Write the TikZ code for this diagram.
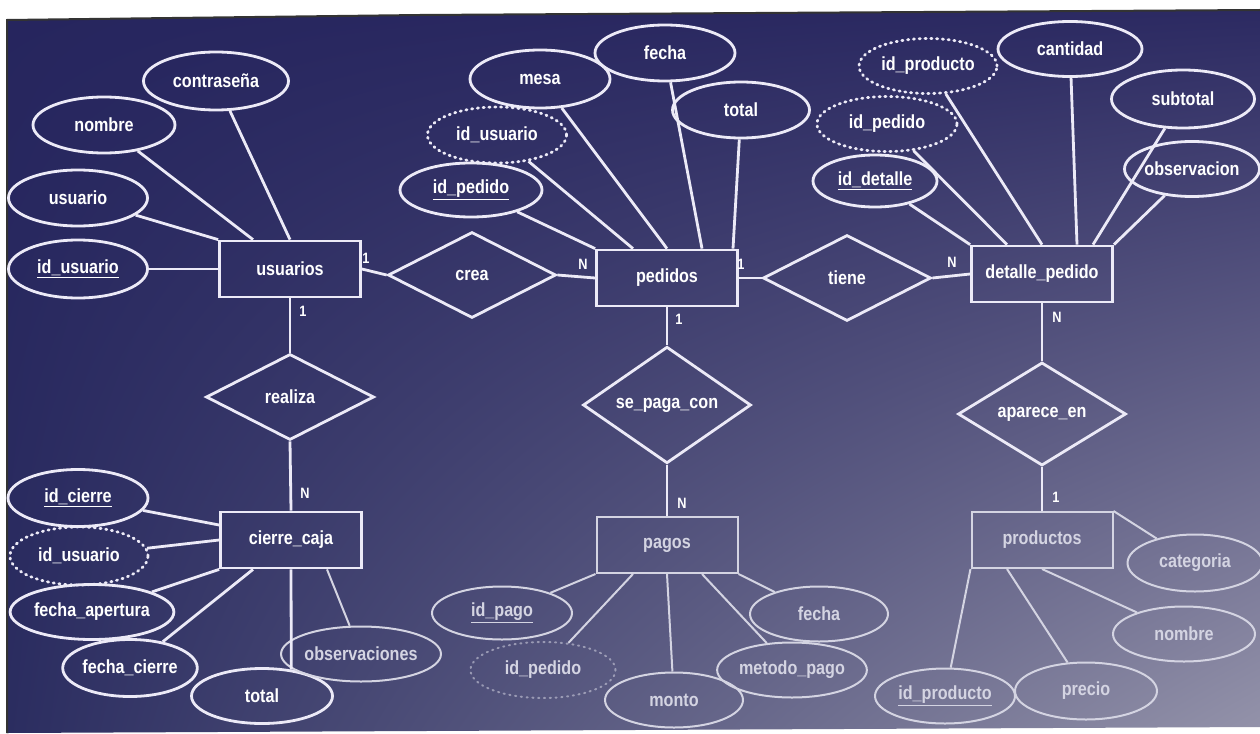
\documentclass[tikz,border=0pt]{standalone}
\usepackage{fontspec}
\setmainfont{Liberation Sans}[FakeStretch=0.85]
\usetikzlibrary{shapes.geometric,shadings}
\definecolor{lc}{HTML}{ECEAF7}
\definecolor{fc}{HTML}{D4D4E2}
\definecolor{bgUL}{HTML}{26255E}
\definecolor{bgUR}{HTML}{2C2A62}
\definecolor{bgLL}{HTML}{2B2D60}
\definecolor{bgLR}{HTML}{9493AA}
\tikzset{
  base/.style={draw=lc, line width=2.8pt, text=white, font=\fontsize{19pt}{21pt}\selectfont\bfseries, inner sep=0pt},
  ent/.style={base, rectangle, minimum width=141pt, minimum height=56pt},
  rel/.style={base, diamond, minimum width=168pt, minimum height=86pt},
  attr/.style={base, ellipse, minimum width=140pt, minimum height=56pt},
  fkattr/.style={attr, dash pattern=on 1.2pt off 4.6pt, line cap=round},
  faded/.style={draw=fc, text=fc, line width=2pt},
  link/.style={draw=lc, line width=2.8pt},
  flink/.style={draw=fc, line width=2pt},
  card/.style={text=white, font=\fontsize{15pt}{15pt}\selectfont\bfseries, inner sep=0pt},
}
\begin{document}
\begin{tikzpicture}[x=1pt,y=-1pt]
\useasboundingbox (0,0) rectangle (1260,733);
\fill[white] (0,0) rectangle (1260,733);
\shade[upper left=bgUL, upper right=bgUR, lower left=bgLL, lower right=bgLR]
  (7,20) -- (420,15) -- (1260,10) -- (1260,727) -- (7,733) -- cycle;
\draw[line width=2pt, color=black!80] (7,733) -- (7,20) -- (420,15) -- (1260,10);

% entities
\node[ent] (usuarios) at (290,269) {usuarios};
\node[ent] (pedidos) at (667,278) {pedidos};
\node[ent] (detalle) at (1042,274) {detalle\_pedido};
\node[ent] (cierre) at (291,540) {cierre\_caja};
\node[ent, faded] (pagos) at (667,545) {pagos};
\node[ent, faded] (productos) at (1042,540) {productos};

% relationships
\node[rel] (crea) at (472,275) {crea};
\node[rel] (tiene) at (847,278) {tiene};
\node[rel] (realiza) at (290,397) {realiza};
\node[rel] (sepaga) at (667,405) {se\_paga\_con};
\node[rel] (aparece) at (1042,414) {aparece\_en};

% usuarios attributes
\node[attr, minimum width=145pt, minimum height=58pt] (ucontr) at (216,81) {contraseña};
\node[attr, minimum width=142pt] (unombre) at (104,125) {nombre};
\node[attr, minimum width=139pt] (uusuario) at (78,198) {usuario};
\node[attr, minimum width=139pt, minimum height=58pt] (uid) at (78,269) {\underline{id\_usuario}};

% pedidos attributes
\node[attr, minimum height=58pt] (pmesa) at (540,79) {mesa};
\node[attr] (pfecha) at (665,53) {fecha};
\node[attr, minimum width=137pt] (ptotal) at (741,110) {total};
\node[fkattr, minimum width=139pt] (pidu) at (497,135) {id\_usuario};
\node[attr, minimum width=142pt, minimum height=54pt] (pid) at (471,190) {\underline{id\_pedido}};

% detalle_pedido attributes
\node[fkattr, minimum width=138pt, minimum height=55pt] (didprod) at (928,66) {id\_producto};
\node[attr, minimum width=144pt, minimum height=55pt] (dcant) at (1070,49) {cantidad};
\node[attr, minimum width=143pt, minimum height=58pt] (dsub) at (1183,99) {subtotal};
\node[fkattr, minimum height=55pt] (didped) at (887,124) {id\_pedido};
\node[attr, minimum width=135pt, minimum height=55pt] (dobs) at (1192,169) {observacion};
\node[attr, minimum width=124pt, minimum height=52pt] (did) at (875,181) {\underline{id\_detalle}};

% cierre_caja attributes
\node[attr, minimum height=57pt] (cid) at (78,498) {\underline{id\_cierre}};
\node[fkattr, minimum width=138pt, minimum height=58pt] (cidu) at (79,556) {id\_usuario};
\node[attr, minimum width=137pt, minimum height=55pt] (cfa) at (92,612) {fecha\_apertura};
\node[attr, minimum width=134pt, minimum height=57pt] (cfc) at (130,668) {fecha\_cierre};
\node[attr, minimum width=141pt, minimum height=55pt] (ctotal) at (262,696) {total};
\node[attr, faded, minimum width=142pt, minimum height=55pt] (cobs) at (361,654) {observaciones};

% pagos attributes
\node[attr, faded, minimum height=53pt] (gid) at (502,613) {\underline{id\_pago}};
\node[fkattr, faded, draw opacity=0.55, minimum width=145pt] (gidp) at (543,670) {id\_pedido};
\node[attr, faded, minimum width=138pt, minimum height=55pt] (gmonto) at (674,700) {monto};
\node[attr, faded, minimum width=139pt, minimum height=55pt] (gmet) at (792,670) {metodo\_pago};
\node[attr, faded, minimum width=138pt, minimum height=55pt] (gfecha) at (819,614) {fecha};

% productos attributes
\node[attr, faded, minimum width=135pt, minimum height=57pt] (rcat) at (1195,563) {categoria};
\node[attr, faded, minimum width=142pt, minimum height=55pt] (rnom) at (1184,634) {nombre};
\node[attr, faded, minimum width=142pt, minimum height=57pt] (rprecio) at (1086,691) {precio};
\node[attr, faded, minimum height=55pt] (rid) at (945,696) {\underline{id\_producto}};

% relationship connectors
\draw[link] (usuarios.east) -- (crea.west);
\draw[link] (crea.east) -- (pedidos.west);
\draw[link] (pedidos.east) -- (tiene.west);
\draw[link] (tiene.east) -- (detalle.west);
\draw[link] (usuarios.south) -- (realiza.north);
\draw[link] (realiza.south) -- (cierre.north);
\draw[link] (pedidos.south) -- (sepaga.north);
\draw[link] (sepaga.south) -- (pagos.north);
\draw[link] (detalle.south) -- (aparece.north);
\draw[link] (aparece.south) -- (productos.north);

% cardinalities
\node[card] (k1) at (366,258) {1};
\node[card] (k2) at (303,311) {1};
\node[card] (k3) at (583,264) {N};
\node[card] (k4) at (741,264) {1};
\node[card] (k5) at (679,319) {1};
\node[card] (k6) at (952,262) {N};
\node[card] (k7) at (1057,317) {N};
\node[card] (k8) at (305,493) {N};
\node[card] (k9) at (682,503) {N};
\node[card] (k10) at (1056,497) {1};

% usuarios attribute links
\draw[link] (ucontr) -- (usuarios.north);
\draw[link] (unombre) -- ([xshift=-37pt]usuarios.north);
\draw[link] (uusuario) -- (usuarios.north west);
\draw[link] (uid) -- (usuarios.west);

% pedidos attribute links
\draw[link] (pid) -- (pedidos.north west);
\draw[link] (pidu) -- ([xshift=-34pt]pedidos.north);
\draw[link] (pmesa) -- (pedidos.north);
\draw[link] (pfecha) -- ([xshift=35pt]pedidos.north);
\draw[link] (ptotal) -- ([xshift=66pt]pedidos.north);

% detalle attribute links
\draw[link] (did) -- (detalle.north west);
\draw[link] (didped) -- ([xshift=-35pt]detalle.north);
\draw[link] (didprod) -- (detalle.north);
\draw[link] (dcant) -- ([xshift=35pt]detalle.north);
\draw[link] (dsub) -- ([xshift=51pt]detalle.north);
\draw[link] (dobs) -- (detalle.north east);

% cierre_caja attribute links
\draw[link] (cid) -- ([yshift=15pt]cierre.west);
\draw[link] (cidu) -- (cierre.west);
\draw[link] (cfa) -- (cierre.south west);
\draw[link] (cfc) -- ([xshift=-38pt]cierre.south);
\draw[link] (cierre.south) -- (ctotal.42);
\draw[flink] (cobs) -- ([xshift=36pt]cierre.south);

% pagos attribute links
\draw[flink] (gid) -- (pagos.south west);
\draw[flink] (gidp) -- ([xshift=-34pt]pagos.south);
\draw[flink] (gmonto) -- (pagos.south);
\draw[flink] (gmet) -- ([xshift=35pt]pagos.south);
\draw[flink] (gfecha) -- (pagos.south east);

% productos attribute links
\draw[flink] (rcat) -- (productos.north east);
\draw[flink] (rnom) -- (productos.south);
\draw[flink] (rprecio) -- ([xshift=-35pt]productos.south);
\draw[flink] (rid) -- (productos.south west);
\end{tikzpicture}
\end{document}
